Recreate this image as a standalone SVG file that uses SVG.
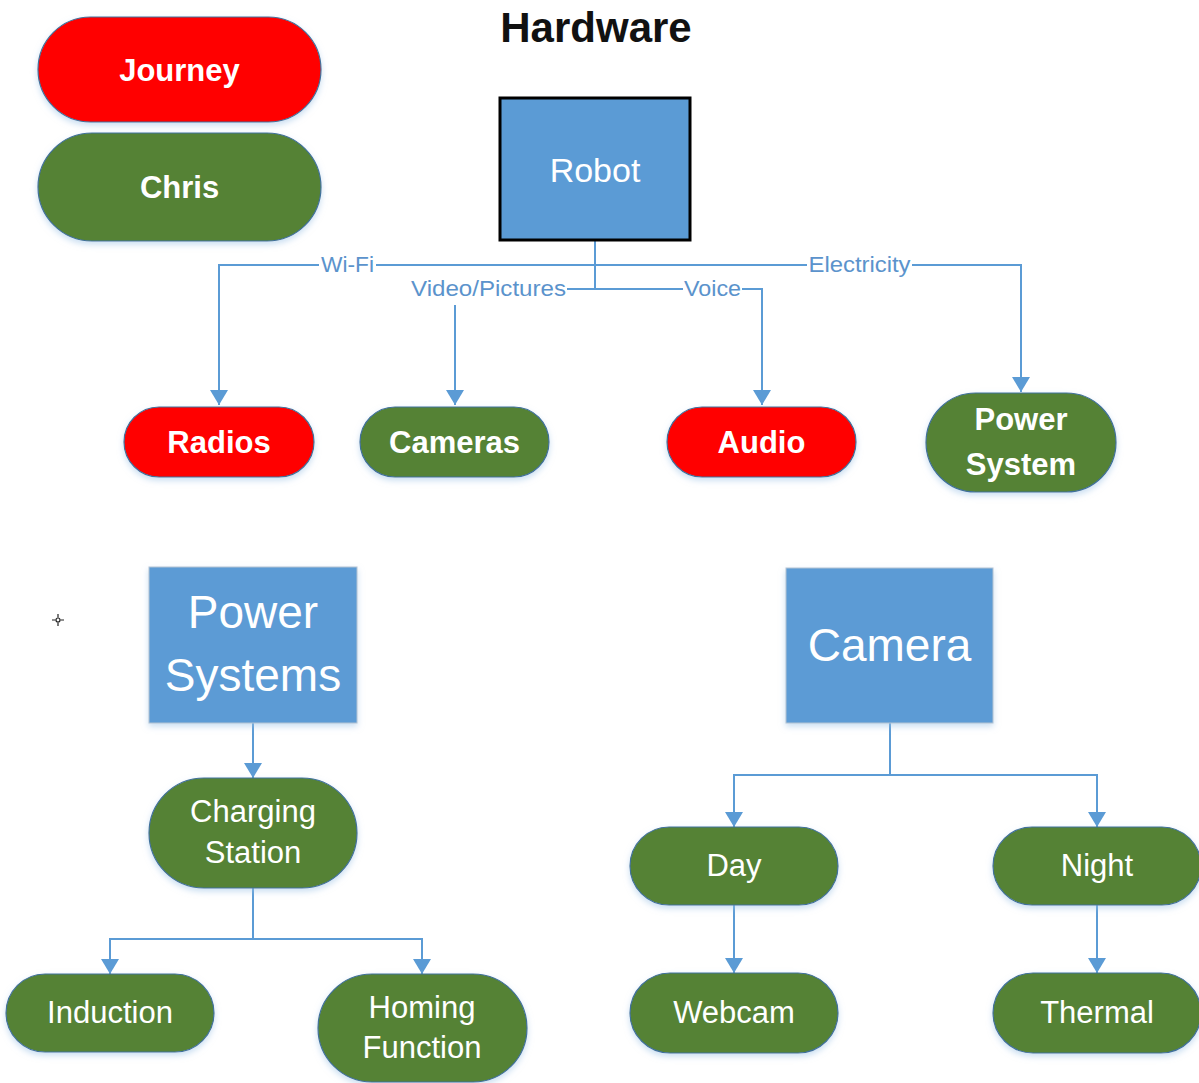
<svg xmlns="http://www.w3.org/2000/svg" width="1199" height="1083" viewBox="0 0 1199 1083">
  <style>
    .pill { stroke: #41719C; stroke-width: 1.2; filter: url(#soft); }
    .red { fill: #FF0000; }
    .green { fill: #548235; }
    .box { fill: #5B9BD5; stroke: #B4C3D3; stroke-width: 1; filter: url(#soft); }
    .lblB { font-family: "Liberation Sans", Arial, sans-serif; font-weight: bold; font-size: 31px; fill: #FFFFFF; text-anchor: middle; }
    .lbl { font-family: "Liberation Sans", Arial, sans-serif; font-size: 31px; fill: #FFFFFF; text-anchor: middle; }
    .big { font-family: "Liberation Sans", Arial, sans-serif; font-size: 46px; fill: #FFFFFF; text-anchor: middle; }
    .edge { fill: none; stroke: #5B9BD5; stroke-width: 2; marker-end: url(#arrow); }
    .plain { fill: none; stroke: #5B9BD5; stroke-width: 2; }
    .elbl { font-family: "Liberation Sans", Arial, sans-serif; font-size: 22px; fill: #5B93CC; text-anchor: middle; }
  </style>
  <defs>
    <filter id="soft" x="-20%" y="-20%" width="140%" height="150%">
      <feDropShadow dx="0" dy="3" stdDeviation="3" flood-color="#9DC3E6" flood-opacity="0.55"/>
    </filter>
    <marker id="arrow" viewBox="0 0 15 18" refX="15" refY="9" markerWidth="15" markerHeight="18" markerUnits="userSpaceOnUse" orient="auto">
      <path d="M0,0 L15,9 L0,18 z" fill="#5B9BD5"/>
    </marker>
  </defs>

  <rect width="1199" height="1083" fill="#FFFFFF"/>

  <!-- title -->
  <text x="596" y="42" font-family="'Liberation Sans', Arial, sans-serif" font-weight="bold" font-size="42" fill="#111111" text-anchor="middle">Hardware</text>

  <!-- legend -->
  <g id="legend-journey">
    <rect class="pill red" x="38" y="17" width="283" height="105" rx="52.5"/>
    <text class="lblB" x="179.5" y="81">Journey</text>
  </g>
  <g id="legend-chris">
    <rect class="pill green" x="38" y="133" width="283" height="108" rx="54"/>
    <text class="lblB" x="179.5" y="198">Chris</text>
  </g>

  <!-- connectors -->
  <g id="connectors">
    <path class="plain" d="M595,240 V289"/>
    <path class="edge" d="M595,265 H376 M319,265 H219 V405"/>
    <path class="edge" d="M595,265 H807 M912,265 H1021 V392"/>
    <path class="plain" d="M595,289 H567"/>
    <path class="edge" d="M455,305 V405"/>
    <path class="edge" d="M595,289 H683 M742,289 H762 V405"/>
    <text class="elbl" x="347.5" y="272" textLength="53" lengthAdjust="spacingAndGlyphs">Wi-Fi</text>
    <text class="elbl" x="859.5" y="272" textLength="102" lengthAdjust="spacingAndGlyphs">Electricity</text>
    <text class="elbl" x="488.5" y="296" textLength="155" lengthAdjust="spacingAndGlyphs">Video/Pictures</text>
    <text class="elbl" x="712.5" y="296" textLength="57" lengthAdjust="spacingAndGlyphs">Voice</text>

    <path class="edge" d="M253,723 V778"/>
    <path class="edge" d="M253,888 V939 H110 V974"/>
    <path class="edge" d="M253,939 H422 V974"/>

    <path class="edge" d="M890,723 V775 H734 V827"/>
    <path class="edge" d="M890,775 H1097 V827"/>
    <path class="edge" d="M734,905 V973"/>
    <path class="edge" d="M1097,905 V973"/>
  </g>

  <!-- hardware tree -->
  <g id="robot">
    <rect x="500" y="98" width="190" height="142" fill="#5B9BD5" stroke="#000000" stroke-width="3"/>
    <text x="595" y="182" font-family="'Liberation Sans', Arial, sans-serif" font-size="34" fill="#FFFFFF" text-anchor="middle">Robot</text>
  </g>
  <g id="radios">
    <rect class="pill red" x="124" y="407" width="190" height="70" rx="35"/>
    <text class="lblB" x="219" y="453">Radios</text>
  </g>
  <g id="cameras">
    <rect class="pill green" x="360" y="407" width="189" height="70" rx="35"/>
    <text class="lblB" x="454.5" y="453">Cameras</text>
  </g>
  <g id="audio">
    <rect class="pill red" x="667" y="407" width="189" height="70" rx="35"/>
    <text class="lblB" x="761.5" y="453">Audio</text>
  </g>
  <g id="power-system">
    <rect class="pill green" x="926" y="393" width="190" height="99" rx="49.5"/>
    <text class="lblB" x="1021" y="430">Power</text>
    <text class="lblB" x="1021" y="475">System</text>
  </g>

  <!-- power systems tree -->
  <g id="power-systems">
    <rect class="box" x="149" y="567" width="208" height="156"/>
    <text class="big" x="253" y="628">Power</text>
    <text class="big" x="253" y="691">Systems</text>
  </g>
  <g id="charging-station">
    <rect class="pill green" x="149" y="778" width="208" height="110" rx="55"/>
    <text class="lbl" x="253" y="822">Charging</text>
    <text class="lbl" x="253" y="863">Station</text>
  </g>
  <g id="induction">
    <rect class="pill green" x="6" y="974" width="208" height="78" rx="39"/>
    <text class="lbl" x="110" y="1023">Induction</text>
  </g>
  <g id="homing-function">
    <rect class="pill green" x="318" y="974" width="209" height="108" rx="54"/>
    <text class="lbl" x="422" y="1018">Homing</text>
    <text class="lbl" x="422" y="1058">Function</text>
  </g>

  <!-- camera tree -->
  <g id="camera">
    <rect class="box" x="786" y="568" width="207" height="155"/>
    <text class="big" x="889.5" y="661" font-size="47">Camera</text>
  </g>
  <g id="day">
    <rect class="pill green" x="630" y="827" width="208" height="78" rx="39"/>
    <text class="lbl" x="734" y="876">Day</text>
  </g>
  <g id="night">
    <rect class="pill green" x="993" y="827" width="208" height="78" rx="39"/>
    <text class="lbl" x="1097" y="876">Night</text>
  </g>
  <g id="webcam">
    <rect class="pill green" x="630" y="973" width="208" height="80" rx="40"/>
    <text class="lbl" x="734" y="1023">Webcam</text>
  </g>
  <g id="thermal">
    <rect class="pill green" x="993" y="973" width="208" height="80" rx="40"/>
    <text class="lbl" x="1097" y="1023">Thermal</text>
  </g>

  <!-- pointer mark -->
  <g id="pointer" stroke="#222222" stroke-width="1.2" fill="none">
    <path d="M52,620 H55.5 M60.5,620 H64 M58,614 V617.5 M58,622.5 V626"/>
    <circle cx="58" cy="620" r="2" fill="#FFFFFF"/>
  </g>
</svg>
